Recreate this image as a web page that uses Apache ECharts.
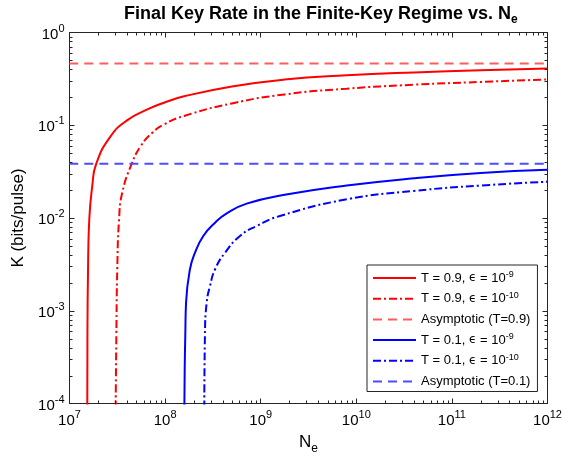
<!DOCTYPE html>
<html><head><meta charset="utf-8">
<script src="https://cdn.jsdelivr.net/npm/echarts@6/dist/echarts.min.js"></script>
<style>html,body{margin:0;padding:0;background:#fff}#c{width:572px;height:460px}</style>
</head><body><div id="c"></div>
<script>
// ---- data ----
const xTicks = [1e7, 1e8, 1e9, 1e10, 1e11, 1e12];
const yTicks = [1e-4, 1e-3, 1e-2, 1e-1, 1];
const seriesNames = [
  'T = 0.9, eps = 1e-9', 'T = 0.9, eps = 1e-10', 'Asymptotic (T=0.9)',
  'T = 0.1, eps = 1e-9', 'T = 0.1, eps = 1e-10', 'Asymptotic (T=0.1)'
];
const legendLabels = [
  'T = 0.9, {e|ϵ} = 10{s|-9}', 'T = 0.9, {e|ϵ} = 10{s|-10}', 'Asymptotic (T=0.9)',
  'T = 0.1, {e|ϵ} = 10{s|-9}', 'T = 0.1, {e|ϵ} = 10{s|-10}', 'Asymptotic (T=0.1)'
];
const redSolid = [[1.535e7, 8.9e-5],[1.54e7, 5e-4],[1.563e7, 2.8e-3],[1.61e7, 9.7e-3],[1.73e7, 0.0221],[1.905e7, 0.0385],[2.70e7, 0.0764],[4.03e7, 0.1135],[6.52e7, 0.148],[9.73e7, 0.175],[1.58e8, 0.205],[5.0e8, 0.262],[1.78e9, 0.311],[7.94e9, 0.345],[4.0e10, 0.371],[2.0e11, 0.391],[1e12, 0.409]];
const redDashDot = [[3.04e7, 8.9e-5],[3.09e7, 5.36e-4],[3.16e7, 2.8e-3],[3.30e7, 9.7e-3],[3.56e7, 0.01875],[4.48e7, 0.0385],[5.56e7, 0.0596],[7.35e7, 0.083],[9.73e7, 0.102],[1.58e8, 0.126],[5.0e8, 0.172],[1.78e9, 0.215],[7.94e9, 0.248],[4.0e10, 0.2735],[2.0e11, 0.293],[1e12, 0.312]];
const redAsym = [[1e7, 0.462],[1e12, 0.462]];
const blueSolid = [[1.59e8, 8.9e-5],[1.603e8, 2.34e-4],[1.626e8, 5.36e-4],[1.656e8, 1.22e-3],[1.82e8, 2.8e-3],[2.056e8, 4.23e-3],[2.51e8, 6.4e-3],[3.33e8, 8.9e-3],[4.41e8, 0.0112],[7.13e8, 0.01429],[1.78e9, 0.01778],[7.94e9, 0.02239],[4.0e10, 0.0268],[2.0e11, 0.03055],[1e12, 0.0331]];
const blueDashDot = [[2.57e8, 8.9e-5],[2.61e8, 5.36e-4],[2.72e8, 1.22e-3],[2.95e8, 1.85e-3],[3.33e8, 2.8e-3],[4.24e8, 4.23e-3],[6.07e8, 6.4e-3],[9.08e8, 8.2e-3],[1.59e9, 0.01052],[7.94e9, 0.0159],[4.0e10, 0.0196],[2.0e11, 0.0224],[1e12, 0.0246]];
const blueAsym = [[1e7, 0.0385],[1e12, 0.0385]];

// ---- presentation ----
const FONT = 'Liberation Sans, Arial, Helvetica, sans-serif';
const AX = '#262626';
const xMin = xTicks[0], xMax = xTicks[xTicks.length - 1];
const yMin = yTicks[0], yMax = yTicks[yTicks.length - 1];
const minorX = [], minorY = [];
for (let i = 0; i < xTicks.length - 1; i++) for (let m = 2; m <= 9; m++) minorX.push(m * xTicks[i]);
for (let i = 0; i < yTicks.length - 1; i++) for (let m = 2; m <= 9; m++) minorY.push(m * yTicks[i]);

function powLabel(v) { const e = Math.round(Math.log10(v)); return '{b|10}{s|' + e + '}'; }
const tickRich = {
  b: {fontSize: 15, lineHeight: 19, verticalAlign: 'bottom', fontFamily: FONT, color: '#000'},
  s: {fontSize: 11, lineHeight: 12, verticalAlign: 'top', fontFamily: FONT, color: '#000'}
};
function axisCommon(pos, showLabel) {
  return {
    type: 'log', logBase: 10, position: pos,
    axisLine: {show: true, lineStyle: {color: AX, width: 1}},
    axisTick: {show: true, inside: true, length: 5, lineStyle: {color: AX, width: 1}},
    splitLine: {show: false}, minorTick: {show: false}, minorSplitLine: {show: false},
    axisLabel: {show: showLabel, formatter: powLabel, rich: tickRich, interval: 0, margin: 6, showMinLabel: true, showMaxLabel: true}
  };
}
const xBottom = Object.assign(axisCommon('bottom', true), {min: xMin, max: xMax,
  name: '{n|N}{sub|e}', nameLocation: 'middle', nameGap: 25,
  nameTextStyle: {rich: {n: {fontSize: 17, lineHeight: 21, verticalAlign: 'top', fontFamily: FONT, color: '#000'},
                         sub: {fontSize: 12, lineHeight: 12, verticalAlign: 'bottom', fontFamily: FONT, color: '#000'}}}});
xBottom.axisLabel.margin = 6;
const xTop = Object.assign(axisCommon('top', false), {min: xMin, max: xMax});
const yLeft = Object.assign(axisCommon('left', true), {min: yMin, max: yMax,
  name: 'K (bits/pulse)', nameLocation: 'middle', nameGap: 39,
  nameTextStyle: {fontSize: 17, fontFamily: FONT, color: '#000'}});
yLeft.axisLabel.margin = 5;
const yRight = Object.assign(axisCommon('right', false), {min: yMin, max: yMax});

function line(name, data, color, type) {
  return {name, type: 'line', data, xAxisIndex: 0, yAxisIndex: 0, symbol: 'none', showSymbol: false,
    smooth: 0.5, clip: true, silent: true,
    lineStyle: {color, width: 2, type}, itemStyle: {color}};
}
const DD = [8, 3, 2, 3], DA = [9, 6];
const series = [
  line(seriesNames[0], redSolid, '#ff0000', 'solid'),
  line(seriesNames[1], redDashDot, '#ff0000', DD),
  line(seriesNames[2], redAsym, '#ff5c5c', DA),
  line(seriesNames[3], blueSolid, '#0000ff', 'solid'),
  line(seriesNames[4], blueDashDot, '#0000ff', DD),
  line(seriesNames[5], blueAsym, '#4d4dff', DA),
  {type: 'custom', xAxisIndex: 0, yAxisIndex: 0, silent: true, clip: false, z: 5,
   data: minorX.map(v => [v, yMin]),
   renderItem: (p, api) => {
     const v = api.value(0), b = api.coord([v, yMin]), t = api.coord([v, yMax]);
     const px = Math.round(b[0]) + 0.5;
     return {type: 'group', children: [
       {type: 'line', shape: {x1: px, y1: b[1], x2: px, y2: b[1] - 3}, style: {stroke: AX, lineWidth: 1}},
       {type: 'line', shape: {x1: px, y1: t[1], x2: px, y2: t[1] + 3}, style: {stroke: AX, lineWidth: 1}}]};
   }},
  {type: 'custom', xAxisIndex: 0, yAxisIndex: 0, silent: true, clip: false, z: 5,
   data: minorY.map(v => [xMin, v]),
   renderItem: (p, api) => {
     const v = api.value(1), l = api.coord([xMin, v]), r = api.coord([xMax, v]);
     const py = Math.round(l[1]) + 0.5;
     return {type: 'group', children: [
       {type: 'line', shape: {x1: l[0], y1: py, x2: l[0] + 3, y2: py}, style: {stroke: AX, lineWidth: 1}},
       {type: 'line', shape: {x1: r[0], y1: py, x2: r[0] - 3, y2: py}, style: {stroke: AX, lineWidth: 1}}]};
   }}
];

const chart = echarts.init(document.getElementById('c'), null, {renderer: 'canvas'});
chart.setOption({
  animation: false,
  backgroundColor: '#fff',
  title: {text: '{t|Final Key Rate in the Finite-Key Regime vs. N}{sub|e}', left: 119, top: 0,
    textStyle: {rich: {
      t: {fontSize: 18, fontWeight: 'bold', lineHeight: 21, verticalAlign: 'top', fontFamily: FONT, color: '#000'},
      sub: {fontSize: 12, fontWeight: 'bold', lineHeight: 12, verticalAlign: 'bottom', fontFamily: FONT, color: '#000'}}}},
  grid: {left: 69.5, right: 24.5, top: 32.5, bottom: 56.5, containLabel: false},
  xAxis: [xBottom, xTop],
  yAxis: [yLeft, yRight],
  legend: {data: seriesNames, orient: 'vertical', left: 367, top: 265, selectedMode: false,
    backgroundColor: '#fff', borderColor: AX, borderWidth: 1, borderRadius: 0,
    padding: [5, 7, 2, 5], itemGap: 4.7, itemWidth: 43, itemHeight: 16,
    itemStyle: {opacity: 0, borderWidth: 0, color: 'transparent'},
    formatter: name => legendLabels[seriesNames.indexOf(name)],
    textStyle: {fontSize: 13, fontFamily: FONT, color: '#000', lineHeight: 16,
      rich: {e: {fontSize: 12, fontFamily: 'DejaVu Sans', color: '#000', lineHeight: 16},
             s: {fontSize: 9, fontFamily: FONT, color: '#000', lineHeight: 10, verticalAlign: 'top'}}}},
  series
});
</script></body></html>
